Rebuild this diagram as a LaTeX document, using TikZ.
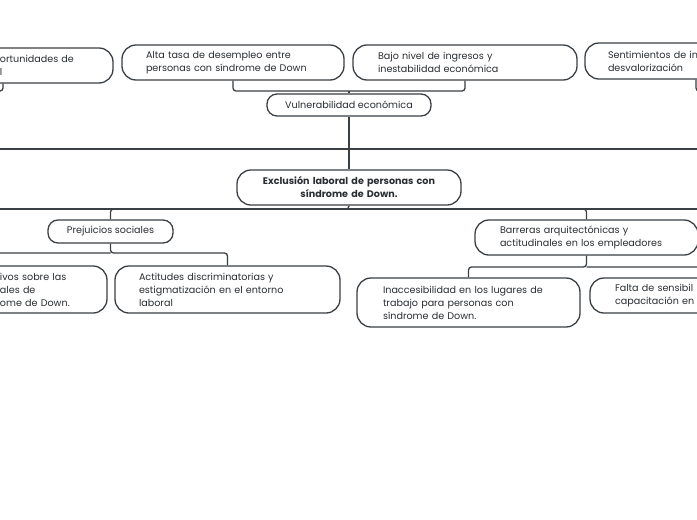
\documentclass[tikz,border=0pt]{standalone}
\usepackage{fontspec}
\setmainfont{Poppins}
\definecolor{ln}{HTML}{3B4045}
\definecolor{tx}{HTML}{2A2E32}
\begin{document}
\begin{tikzpicture}[x=1pt,y=-1pt,
  box/.style={draw=ln, line width=1.3pt, rounded corners=14pt, fill=white, text=tx,
    font=\fontsize{9.6}{13}\selectfont, align=left, inner ysep=0pt},
  cbox/.style={box, align=center},
  sbox/.style={cbox, rounded corners=10pt},
  conn/.style={draw=ln, line width=1.3pt, rounded corners=3pt},
  trunk/.style={draw=ln, line width=1.8pt}]
\useasboundingbox (0,0) rectangle (697,520);
\clip (0,0) rectangle (697,520);
\fill[white] (0,0) rectangle (697,520);
% top row
\node[box, text width=172pt, inner xsep=24pt, minimum height=35pt] (n1) at (3,65.5)
  {\hspace*{83pt}ortunidades de\\\hspace*{83pt}l};
\node[box, text width=174pt, inner xsep=24pt, minimum height=35pt] (alta) at (233,62.5)
  {Alta tasa de desempleo entre\\personas con síndrome de Down};
\node[box, text width=174pt, inner xsep=25pt, minimum height=35pt] (bajo) at (465,62.5)
  {Bajo nivel de ingresos y\\inestabilidad económica};
\node[box, text width=176pt, inner xsep=23pt, minimum height=36pt] (sent) at (696,61)
  {Sentimientos de in\\desvalorización};
\node[sbox, minimum width=164pt, minimum height=22pt] (vul) at (349,105)
  {Vulnerabilidad económica};
% centre
\node[cbox, text width=190pt, inner xsep=17pt, minimum height=35pt, font=\fontsize{9.6}{13}\selectfont\bfseries] (excl) at (349,187.5)
  {Exclusión laboral de personas con\\síndrome de Down.};
% bottom
\node[sbox, minimum width=125pt, minimum height=23pt] (prej) at (110.5,231.5)
  {Prejuicios sociales};
\node[box, text width=176pt, inner xsep=24pt, minimum height=47pt] (lb) at (-5,289.5)
  {\hspace*{93pt}ivos sobre las\\\hspace*{93pt}ales de\\\hspace*{93pt}ome de Down.};
\node[box, text width=177pt, inner xsep=24pt, minimum height=47pt] (act) at (227.5,289.5)
  {Actitudes discriminatorias y\\estigmatización en el entorno\\laboral};
\node[box, text width=173pt, inner xsep=25pt, minimum height=35pt] (bar) at (586.5,237.5)
  {Barreras arquitectónicas y\\actitudinales en los empleadores};
\node[box, text width=171pt, inner xsep=26pt, minimum height=49pt] (inac) at (468.5,302.5)
  {Inaccesibilidad en los lugares de\\trabajo para personas con\\síndrome de Down.};
\node[box, text width=174pt, inner xsep=25pt, minimum height=35pt] (falta) at (702,295.5)
  {Falta de sensibil\\capacitación en};
% connectors top
\coordinate (j1) at (349,91);
\coordinate (j0) at (-40,91);
\coordinate (j5) at (740,91);
\draw[conn] (alta.south) |- (j1) -| (bajo.south);
\draw[conn] (j1) -- (vul.north);
\draw[conn] (vul.south) -- (excl.north);
\draw[conn] (n1.south) |- (j0);
\draw[conn] (sent.south) |- (j5);
\coordinate (tl) at (0,149);
\coordinate (tr) at (697,149);
\draw[trunk] (tl) -- (tr);
% connectors bottom
\coordinate (j2) at (349,209);
\draw[conn] (excl.south) -- (j2) -| (prej.north);
\draw[conn] (j2) -| (bar.north);
\coordinate (bl) at (0,209);
\coordinate (br) at (697,209);
\draw[trunk] (bl) -- (br);
\coordinate (j3) at (110.5,253);
\draw[conn] (prej.south) -- (j3) -| (act.north);
\draw[conn] (j3) -| (lb.north);
\coordinate (j4) at (586.5,267);
\draw[conn] (bar.south) -- (j4) -| (inac.north);
\draw[conn] (j4) -| (falta.north);
\end{tikzpicture}
\end{document}
